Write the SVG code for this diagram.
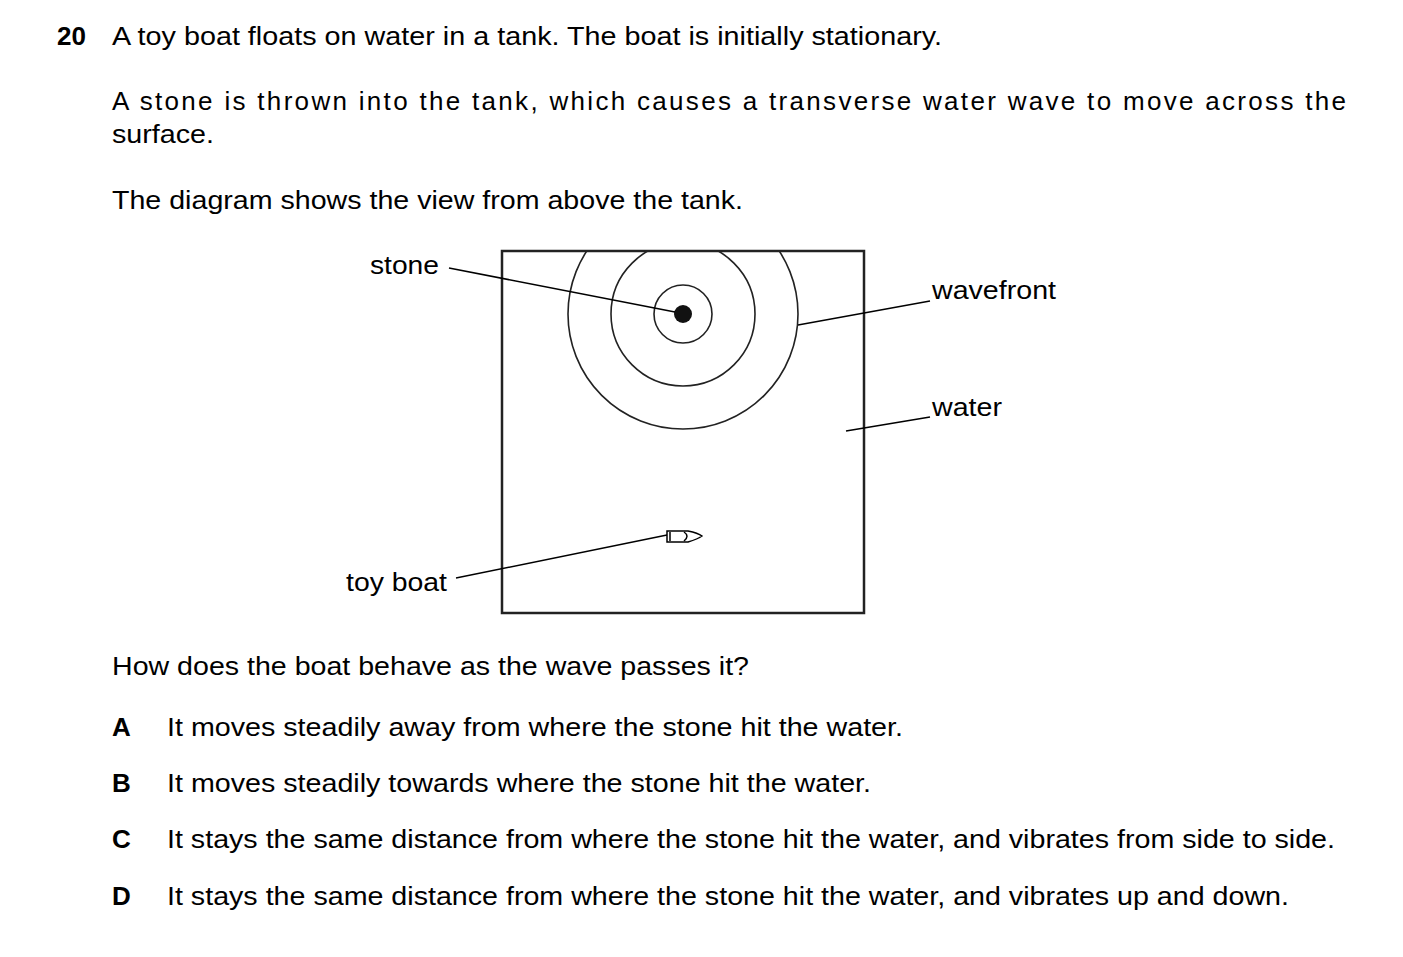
<svg xmlns="http://www.w3.org/2000/svg" width="1403" height="957" viewBox="0 0 1403 957">
<style>
text{font-family:"Liberation Sans",Arial,sans-serif;font-size:26px;fill:#000}
.l{stroke:#000;stroke-width:1.5;fill:none}
.w{stroke:#222;stroke-width:1.6;fill:none}
</style>
<defs><clipPath id="tc"><rect x="502" y="251" width="362" height="362"/></clipPath></defs>
<rect width="1403" height="957" fill="#fff"/>
<text x="57" y="45" font-weight="bold">20</text>
<text x="112" y="45" textLength="830" lengthAdjust="spacingAndGlyphs">A toy boat floats on water in a tank. The boat is initially stationary.</text>
<text x="112" y="110" textLength="1234" lengthAdjust="spacing">A stone is thrown into the tank, which causes a transverse water wave to move across the</text>
<text x="112" y="143" textLength="102" lengthAdjust="spacingAndGlyphs">surface.</text>
<text x="112" y="209" textLength="631" lengthAdjust="spacingAndGlyphs">The diagram shows the view from above the tank.</text>
<g id="tank"><rect x="502" y="251" width="362" height="362" fill="none" stroke="#222" stroke-width="2.5"/></g>
<g id="waves" clip-path="url(#tc)">
<circle class="w" cx="683" cy="314" r="29"/>
<circle class="w" cx="683" cy="314" r="72"/>
<circle class="w" cx="683" cy="314" r="115"/>
</g>
<g id="stone"><circle cx="683" cy="314" r="9" fill="#111"/></g>
<g id="boat" class="l">
<path d="M667,531 H688 Q698,533 702,536 Q698,539 688,542 H667 Z"/>
<path d="M670,532 V541 M684,532 Q690,536 684,541"/>
</g>
<g id="connectors" class="l">
<line x1="449" y1="268" x2="675" y2="312"/>
<line x1="798" y1="325" x2="930" y2="301"/>
<line x1="846" y1="431" x2="930" y2="417"/>
<line x1="456" y1="578" x2="667" y2="535"/>
</g>
<text x="370" y="274" textLength="69" lengthAdjust="spacingAndGlyphs">stone</text>
<text x="932" y="299" textLength="124" lengthAdjust="spacingAndGlyphs">wavefront</text>
<text x="932" y="416" textLength="70" lengthAdjust="spacingAndGlyphs">water</text>
<text x="346" y="591" textLength="101" lengthAdjust="spacingAndGlyphs">toy boat</text>
<text x="112" y="675" textLength="637" lengthAdjust="spacingAndGlyphs">How does the boat behave as the wave passes it?</text>
<text x="112" y="736" font-weight="bold">A</text><text x="167" y="736" textLength="736" lengthAdjust="spacingAndGlyphs">It moves steadily away from where the stone hit the water.</text>
<text x="112" y="792" font-weight="bold">B</text><text x="167" y="792" textLength="704" lengthAdjust="spacingAndGlyphs">It moves steadily towards where the stone hit the water.</text>
<text x="112" y="848" font-weight="bold">C</text><text x="167" y="848" textLength="1168" lengthAdjust="spacingAndGlyphs">It stays the same distance from where the stone hit the water, and vibrates from side to side.</text>
<text x="112" y="905" font-weight="bold">D</text><text x="167" y="905" textLength="1122" lengthAdjust="spacingAndGlyphs">It stays the same distance from where the stone hit the water, and vibrates up and down.</text>
</svg>
